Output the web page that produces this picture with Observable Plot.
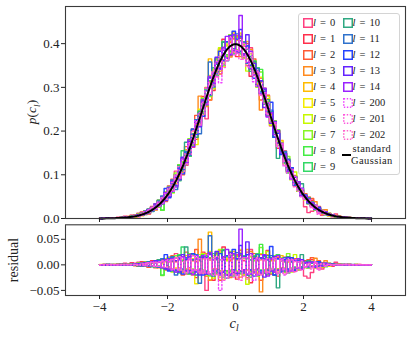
<!DOCTYPE html>
<html><head><meta charset="utf-8">
<script src="https://cdn.jsdelivr.net/npm/d3@7"></script>
<script src="https://cdn.jsdelivr.net/npm/@observablehq/plot@0.6"></script>
<style>
body{margin:0;background:#fff}
#wrap{position:relative;width:412px;height:338px;font-family:"Liberation Serif","DejaVu Serif",serif;color:#222;overflow:hidden}
#wrap > svg{position:absolute;left:0}
.lab{position:absolute;white-space:nowrap;transform:translate(-50%,-50%)}
.rot{transform:translate(-50%,-50%) rotate(-90deg)}
#legend{position:absolute;left:298px;top:13px;width:100px;height:160px;border:1px solid #d4d4d4;border-radius:3px;background:rgba(255,255,255,0.85);font-size:10.5px}
.item{position:absolute;height:12px;line-height:12px;white-space:nowrap;word-spacing:1.5px}
.sw{position:absolute;left:0;top:1px}
.tx{position:absolute;left:10px;top:0}
</style></head><body><div id="wrap"></div><script>
// bin edges: -4 .. 4, width 0.1 (80 bins)
const binStart = -4, binWidth = 0.1, nBins = 80;
const xTicks = [-4, -2, 0, 2, 4];
const yTicksTop = [0, 0.1, 0.2, 0.3, 0.4];
const yTicksBottom = [-0.05, 0, 0.05];

// standard Gaussian density at |x| = 0, 0.05, 0.10, ... 4.00
const gaussHalf = [0.39894,0.39844,0.39695,0.39448,0.39104,0.38667,0.38139,0.37524,0.36827,0.36053,
0.35207,0.34294,0.33322,0.32297,0.31225,0.30114,0.28969,0.27798,0.26609,0.25406,
0.24197,0.22988,0.21785,0.20594,0.19419,0.18265,0.17137,0.16038,0.14973,0.13943,
0.12952,0.12001,0.11092,0.10226,0.09405,0.08628,0.07895,0.07206,0.06562,0.05959,
0.05399,0.04879,0.04398,0.03955,0.03547,0.03174,0.02833,0.02522,0.02239,0.01984,
0.01753,0.01545,0.01358,0.01191,0.01042,0.00909,0.00792,0.00687,0.00595,0.00514,
0.00443,0.00381,0.00327,0.00279,0.00238,0.00203,0.00172,0.00146,0.00123,0.00104,
0.00087,0.00073,0.00061,0.00051,0.00042,0.00035,0.00029,0.00024,0.00020,0.00016,0.00013];

const seriesLabels = ["0","1","2","3","4","5","6","7","8","9","10","11","12","13","14","200","201","202"];
const seriesColors = ["#ff3f80","#ff2f4c","#ff5a34","#ff8a1e","#ffbb00","#f4ec00","#c6f800","#86f624","#44ec44","#33d866",
"#2fa882","#2f72cc","#2444ff","#6424ff","#9a22ff","#ee44ff","#ff55dd","#ff66cc"];
const seriesDotted = [false,false,false,false,false,false,false,false,false,false,false,false,false,false,false,true,true,true];

// residuals (histogram minus Gaussian) per bin, in units of 0.001
const res0 = [0,0,1,0,0,2,1,3,2,4, 3,5,2,6,4,-2,8,10,-6,12, -4,14,22,-10,8,-18,12,-20,6,15, -12,-50,-30,18,-8,25,-15,10,-22,14, 20,-12,8,-25,30,-10,15,-18,12,-20, 10,-14,18,-8,6,-12,14,-6,10,-8, -22,-26,-15,-4,6,-8,4,2,-3,5, 2,0,1,-1,0,1,0,0,0,0];
const res1 = [0,1,0,0,1,0,2,1,-1,3, 2,-3,6,4,-5,8,-4,6,10,-8, 15,-12,6,20,-14,10,-6,18,-25,12, 25,-18,10,-30,22,-12,35,-20,8,-15, -28,18,-10,25,-35,14,-8,20,-12,28, -18,12,-22,8,15,-10,6,-12,9,-4, 8,-6,10,-3,4,-5,2,3,-2,1, 1,0,-1,1,0,0,1,0,0,0];
const res2 = [0,0,0,1,0,1,0,2,1,0, -2,4,1,-3,6,3,-6,9,5,-10, 6,18,-8,12,-20,25,-10,8,30,-14, 18,-22,12,-8,20,-30,16,-12,24,-18, 10,28,-20,14,-12,22,-16,-30,18,-8, 12,-20,15,-6,10,-14,8,12,-10,6, 4,10,14,-6,8,-4,3,-2,2,-1, 0,1,0,1,0,0,0,0,0,0];
const res3 = [0,0,1,0,0,0,1,0,2,1, 1,-2,4,2,-4,5,7,-6,4,8, -10,6,14,-12,16,-8,20,-14,10,50, -15,22,-30,10,-18,28,-12,16,-25,12, 18,-24,14,-10,26,-16,8,-53,20,-12, 8,15,-10,12,-14,6,-8,10,-6,4, -4,6,-2,13,-6,4,8,-3,2,0, 1,0,0,1,0,0,0,0,0,0];
const res4 = [0,1,0,0,0,1,0,1,0,2, 2,0,-3,5,3,-2,6,-4,8,6, 12,-8,15,-6,-14,18,-10,22,-12,8, -16,20,64,-18,12,-24,14,-20,10,26, -14,22,-18,30,-12,16,-22,10,-16,20, -10,14,-8,18,-12,6,-10,8,-5,7, 5,-4,6,-3,2,-5,3,1,-1,2, 0,1,0,0,0,1,0,0,0,0];
const res5 = [1,0,0,0,1,0,0,0,1,0, 0,3,-2,4,-1,6,-5,8,2,10, -8,12,-6,16,10,-12,18,-16,-37,20, 12,-20,26,18,-14,24,-28,12,-10,22, -18,30,-12,14,-20,18,-14,22,-10,-16, 14,-10,20,-12,8,-14,10,-6,12,-8, 6,-4,5,-6,3,-2,4,-3,1,-1, 0,0,1,0,0,0,0,0,0,0];
const res6 = [0,0,0,1,0,0,1,0,0,1, 2,-1,3,0,5,-3,4,9,-7,12, 10,-14,8,20,-10,14,-18,12,20,-12, 22,-16,10,-26,14,30,-20,8,-14,18, -12,24,-20,-38,16,-12,20,-18,12,26, -16,8,-12,14,-6,10,-14,20,-8,6, -6,8,-3,5,-4,3,-2,2,-1,1, 0,1,0,0,0,0,0,0,0,0];
const res7 = [0,1,0,0,0,1,0,0,1,0, -1,2,4,-3,3,6,-4,10,-21,8, 14,-10,18,-12,8,-16,22,-8,14,-18, -10,16,-22,14,20,-12,10,-16,26,-20, 16,-18,12,20,-14,8,-22,34,-10,14, -12,18,-8,10,-14,22,-6,8,-10,4, 5,-3,4,-6,3,2,-2,3,-1,1, 0,0,0,1,0,0,0,0,0,0];
const res8 = [0,0,1,0,0,0,0,1,0,1, 1,-2,3,5,-2,4,7,-5,-20,10, -6,12,-14,20,8,-10,16,-14,12,-8, 20,-18,14,-10,24,-16,30,-12,18,-22, -14,20,-16,12,-10,18,-20,40,-12,10, -8,12,-16,8,10,-12,6,-8,12,-5, 4,-6,3,5,-3,2,-4,1,2,0, 1,0,0,0,0,1,0,0,0,0];
const res9 = [0,0,0,0,1,0,1,0,0,2, 0,3,-2,4,5,-3,6,-2,8,-6, 10,-12,14,-16,35,12,-18,20,-10,16, -14,18,-20,22,-16,10,-24,16,-12,20, 12,-16,18,-20,10,-14,22,-10,16,-18, 14,-8,20,-12,6,-16,10,-4,8,-6, 3,-5,6,-2,4,-3,2,-1,1,0, 0,1,0,0,0,0,0,0,0,0];
const res10 = [0,0,1,0,0,0,1,0,0,0, 2,0,-2,3,6,-4,5,10,-6,9, -8,14,-10,18,-12,35,-14,10,-20,14, 16,-12,22,-18,10,-16,28,-20,14,-10, -18,12,-14,20,-24,16,-10,12,-16,18, 14,-20,-45,10,-12,16,-8,10,-6,20, 4,8,-4,5,-3,2,-2,1,2,-1, 0,0,1,0,0,0,0,0,0,0];
const res11 = [0,0,0,1,0,0,0,1,0,0, 1,-2,2,4,-3,5,-4,8,12,-6, -10,16,-20,12,-8,14,-16,10,20,-36, 18,-14,57,-22,14,-18,12,-26,16,-10, 24,-12,16,-20,10,-14,20,-16,12,-10, 18,-10,12,-8,14,-12,6,-10,8,-4, 3,-4,5,-2,3,-1,2,0,1,0, 0,0,0,0,1,0,0,0,0,0];
const res12 = [0,0,0,0,0,1,0,0,1,0, 0,2,-1,3,5,-2,4,-4,7,20, -12,8,-10,14,-18,10,-12,22,-14,10, -20,14,-18,10,-12,22,-14,18,-20,30, 12,38,-16,20,-10,-22,14,-12,18,-16, 36,-20,12,-14,10,-8,14,-10,6,-8, 5,-3,4,-5,6,-2,3,-1,1,1, 0,1,0,0,0,0,0,0,0,0];
const res13 = [0,0,1,0,0,0,1,0,0,1, 1,2,-2,4,-1,5,8,-4,6,-8, 12,-10,8,-14,20,-12,16,-10,18,-20, 14,-18,20,-12,26,-16,10,-20,24,-14, -16,22,-10,45,-18,12,-20,14,-24,10, -12,16,-10,12,-8,14,-12,8,-6,10, -4,5,-3,4,-2,3,-1,2,0,1, 0,0,0,1,0,0,0,0,0,0];
const res14 = [0,1,0,0,0,0,0,1,0,0, 2,0,3,-2,4,6,-3,5,-6,10, -8,12,-14,10,16,-12,20,-18,12,-10, 18,-16,24,-14,12,-20,16,30,-18,22, -20,70,-12,-18,22,-14,10,-16,20,-22, 12,-14,18,-10,8,-12,10,-6,12,-8, 4,-3,5,-4,2,-2,3,-1,1,0, 0,0,1,0,0,0,0,0,0,0];
const res200 = [0,0,0,1,0,0,0,0,1,0, 1,0,2,-1,3,4,-3,6,-4,8, 6,-10,12,-8,14,-16,10,-12,18,-14, -12,20,-14,10,-18,-50,12,-20,16,-24, -14,10,-22,14,-16,-30,12,-18,10,-14, -8,12,-16,10,-20,8,-12,10,-6,8, -5,3,-4,6,-8,2,-2,1,-1,0, 0,1,0,0,0,0,0,0,0,0];
const res201 = [0,0,0,0,1,0,0,1,0,0, 0,1,-1,2,4,-2,5,-3,6,-4, 10,-8,14,-10,6,-14,12,-10,14,-16, 12,-16,10,-20,16,-14,-30,-24,20,-12, -20,-30,14,-12,18,-16,-20,10,-14,12, -10,14,-18,12,-8,-16,10,-14,6,-10, -4,2,-6,3,-10,2,-3,1,0,1, 0,0,1,0,0,0,0,0,0,0];
const res202 = [0,0,0,0,0,0,1,0,0,1, 1,-1,2,3,-2,5,-3,4,8,-5, -6,10,-8,16,-12,8,-14,18,-10,12, -16,12,-18,14,-20,10,-22,-26,12,-18, -24,14,-16,-28,10,-12,14,-20,8,-16, -6,10,-14,8,-18,10,-8,6,-10,4, -3,2,-8,4,-6,2,-2,1,0,0, 0,0,0,0,0,0,1,0,0,0];
const residuals = [res0,res1,res2,res3,res4,res5,res6,res7,res8,res9,res10,res11,res12,res13,res14,res200,res201,res202];

// Gaussian curve points
const gaussCurve = [];
for (let j = gaussHalf.length - 1; j >= 1; j--) gaussCurve.push({x: -0.05 * j, y: gaussHalf[j]});
for (let j = 0; j < gaussHalf.length; j++) gaussCurve.push({x: 0.05 * j, y: gaussHalf[j]});

function stepData(vals) {
  const pts = [{x: binStart, y: 0}];
  vals.forEach((v, k) => pts.push({x: binStart + k * binWidth, y: v}));
  pts.push({x: binStart + nBins * binWidth, y: 0});
  return pts;
}
const histSeries = residuals.map(r => stepData(r.map((v, k) => gaussHalf[Math.abs(2 * k - 79)] + v / 1000)));
const residSeries = residuals.map(r => stepData(r.map(v => v / 1000)));

function seriesMarks(datas) {
  return datas.map((d, i) => Plot.line(d, {x: "x", y: "y", curve: "step-after",
    stroke: seriesColors[i], strokeWidth: 1.4,
    strokeDasharray: seriesDotted[i] ? "1.4,2.2" : null}));
}
const fontStyle = {fontFamily: '"Liberation Serif","DejaVu Serif",serif', fontSize: "13px", background: "transparent", color: "#222", overflow: "visible"};

const topPlot = Plot.plot({
  width: 412, height: 222, marginLeft: 65, marginRight: 7, marginTop: 6, marginBottom: 4,
  x: {domain: [-5, 5]}, y: {domain: [0, 0.485]}, style: fontStyle,
  marks: [
    ...seriesMarks(histSeries),
    Plot.line(gaussCurve, {x: "x", y: "y", stroke: "black", strokeWidth: 2}),
    Plot.frame({stroke: "#3a3a3a", strokeWidth: 1.1}),
    Plot.axisX({ticks: xTicks, tickFormat: () => "", tickSize: 4, label: null}),
    Plot.axisY({ticks: yTicksTop, tickFormat: d3.format(".1f"), tickSize: 4, tickPadding: 2, label: null})
  ]
});
topPlot.style.top = "0px";

const bottomPlot = Plot.plot({
  width: 412, height: 118, marginLeft: 65, marginRight: 7, marginTop: 4.3, marginBottom: 43,
  x: {domain: [-5, 5]}, y: {domain: [-0.06, 0.0784]}, style: fontStyle,
  marks: [
    ...seriesMarks(residSeries),
    Plot.frame({stroke: "#3a3a3a", strokeWidth: 1.1}),
    Plot.axisX({ticks: xTicks, tickFormat: d3.format("d"), tickSize: 4, tickPadding: 2, label: null}),
    Plot.axisY({ticks: yTicksBottom, tickFormat: d3.format(".2f"), tickSize: 4, tickPadding: 2, label: null})
  ]
});
bottomPlot.style.top = "220px";

const wrap = document.getElementById("wrap");
wrap.appendChild(topPlot);
wrap.appendChild(bottomPlot);

function addLabel(html, x, y, size, rotate) {
  const d = document.createElement("div");
  d.className = "lab" + (rotate ? " rot" : "");
  d.style.left = x + "px"; d.style.top = y + "px"; d.style.fontSize = size + "px";
  d.innerHTML = html;
  wrap.appendChild(d);
}
addLabel('<i>p</i>(<i>c</i><sub style="font-size:9px"><i>l</i></sub>)', 33, 112, 13.5, true);
addLabel('residual', 14, 260, 14, true);
addLabel('<i>c</i><sub style="font-size:9.5px"><i>l</i></sub>', 234, 324, 14.5, false);

// legend
const legend = document.createElement("div");
legend.id = "legend";
wrap.appendChild(legend);
seriesLabels.forEach((lab, i) => {
  const col = i < 10 ? 0 : 1;
  const row = i < 10 ? i : i - 10;
  const it = document.createElement("div");
  it.className = "item";
  it.style.left = (col ? 43.5 : 4) + "px";
  it.style.top = (2.5 + 16 * row) + "px";
  const dash = seriesDotted[i] ? ' stroke-dasharray="1.4,1.6"' : '';
  it.innerHTML = '<svg class="sw" width="10" height="10"><rect x="0.75" y="0.75" width="8.5" height="8.5" fill="none" stroke="' +
    seriesColors[i] + '" stroke-width="1.5"' + dash + '/></svg><div class="tx"><i>l</i> = ' + lab + '</div>';
  legend.appendChild(it);
});
const gl = document.createElement("div");
gl.style.cssText = "position:absolute;left:43px;top:140px;width:9px;height:2px;background:#000";
legend.appendChild(gl);
const gt = document.createElement("div");
gt.style.cssText = "position:absolute;left:52px;top:128.5px;line-height:12px;text-align:center;letter-spacing:0.4px";
gt.innerHTML = "standard<br>Gaussian";
legend.appendChild(gt);
</script></body></html>
